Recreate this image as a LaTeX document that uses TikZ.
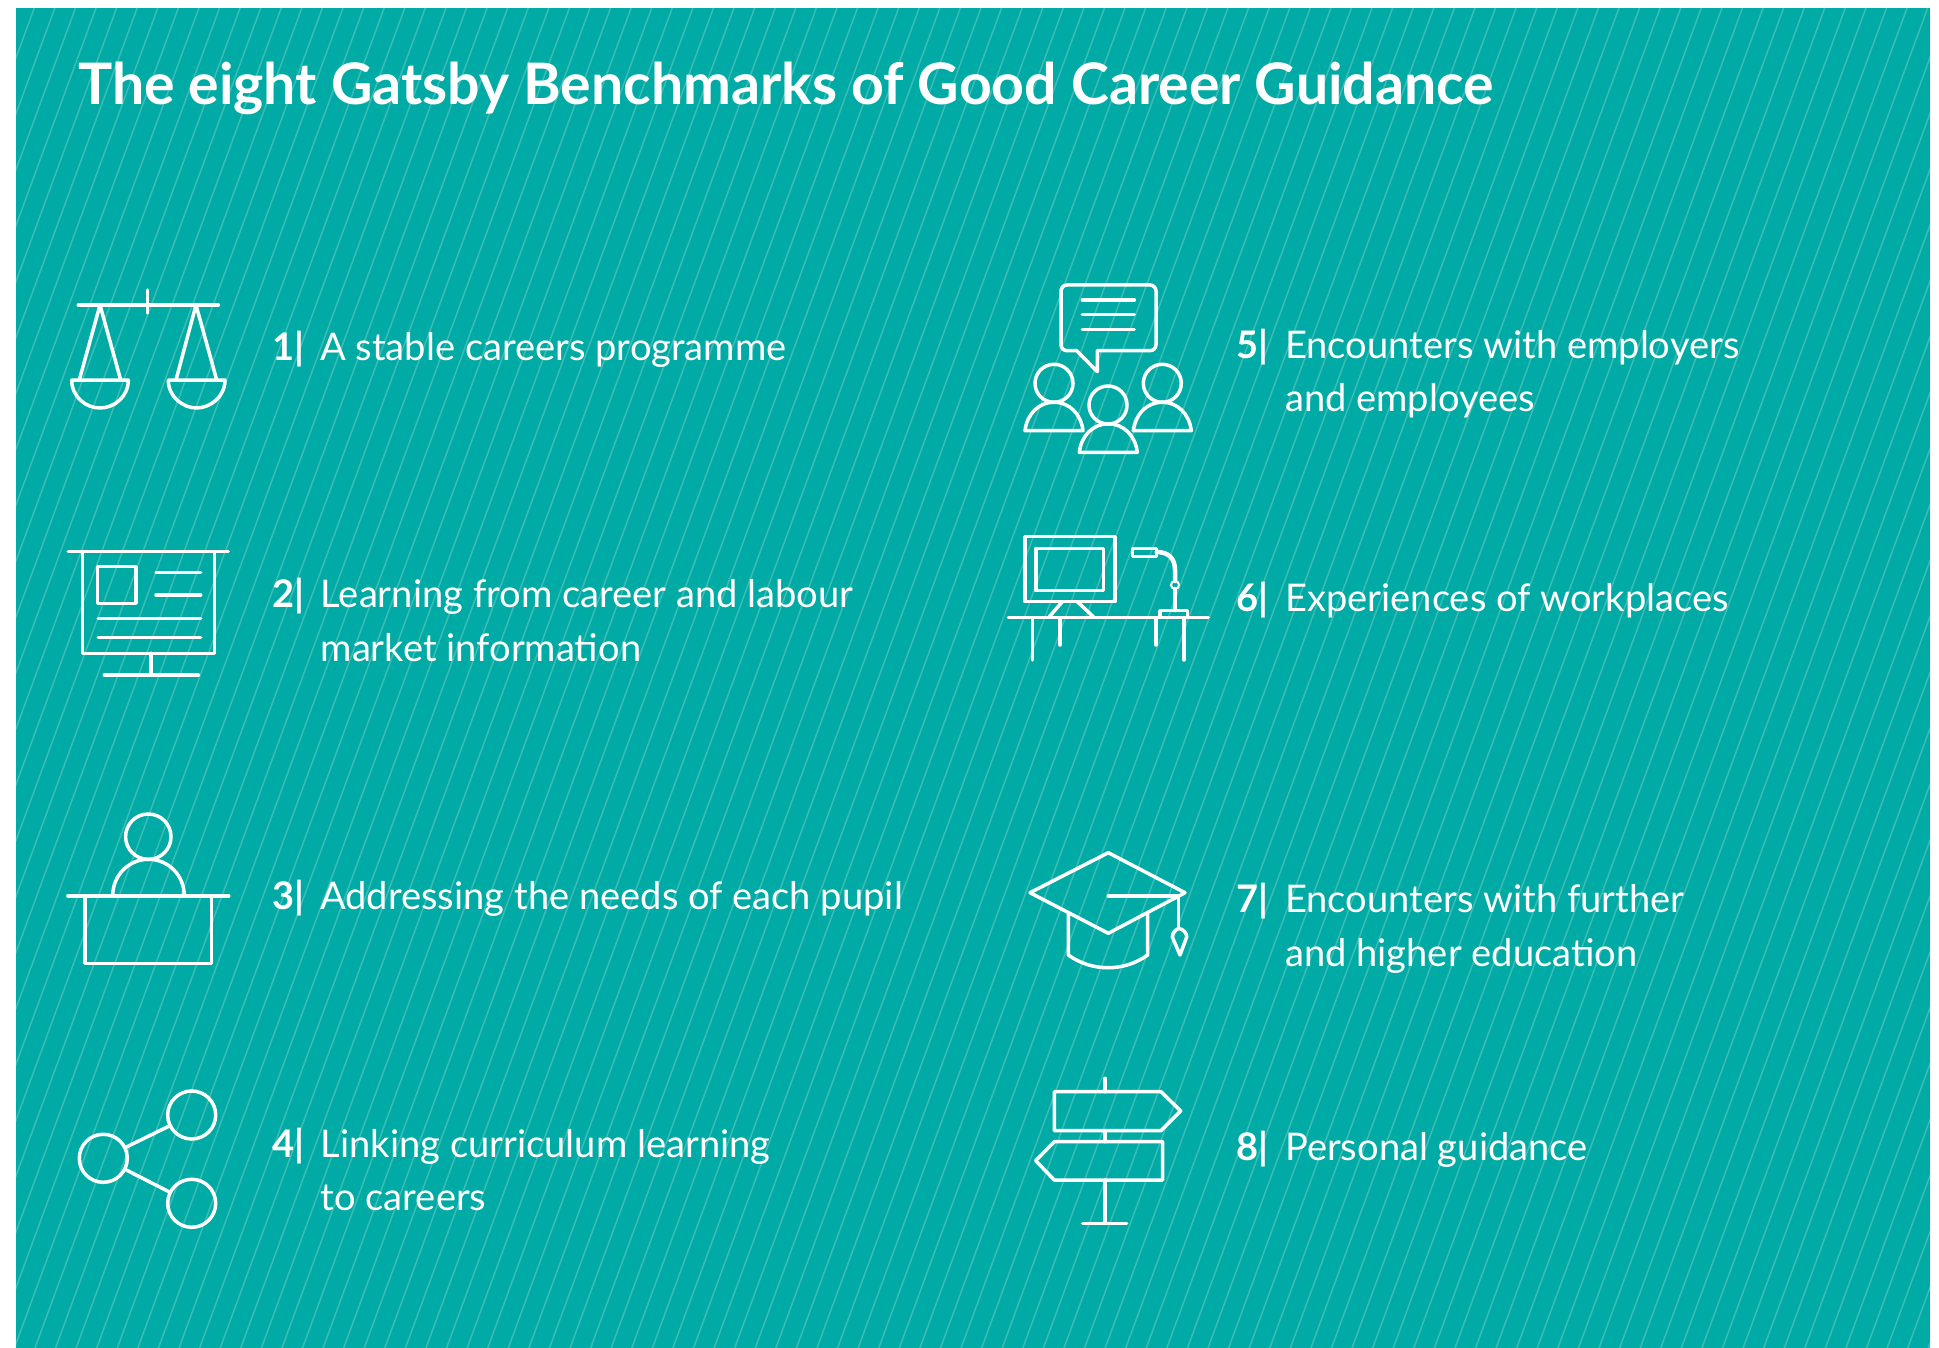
\documentclass[tikz,border=0pt]{standalone}
\usepackage{fontspec}
\setmainfont{Lato}
\definecolor{panel}{HTML}{00ABA6}
\definecolor{stripe}{HTML}{3DBBB5}
\tikzset{
  icon/.style={draw=white,line width=3.5pt,line join=round,line cap=round},
  stripeline/.style={draw=stripe,line width=1.5pt},
  bmtitle/.style={text=white,anchor=base west,inner sep=0pt,font=\fontsize{57.2}{60}\selectfont\bfseries},
  bmnum/.style={text=white,anchor=base west,inner sep=0pt,font=\fontsize{38}{54}\selectfont\bfseries},
  bmtext/.style={text=white,anchor=base west,inner sep=0pt,align=left,font=\fontsize{38.1}{53.5}\selectfont},
  ring/.style={circle,draw=white,line width=3.5pt,minimum size=#1,inner sep=0pt}
}
\begin{document}
\begin{tikzpicture}[x=1pt,y=-1pt]
\useasboundingbox (0,0) rectangle (1939,1348);
\fill[white] (0,0) rectangle (1939,1348);
\begin{scope}
\clip (16,8) rectangle (1930,1348);
\fill[panel] (16,8) rectangle (1930,1348);
\foreach \k in {-2,...,118}{
  \pgfmathsetmacro{\xa}{34.3+20.58*\k}
  \pgfmathsetmacro{\xb}{\xa-0.3681*1340}
  \draw[stripeline] (\xa,8) -- (\xb,1348);
}
\end{scope}
% title
\node[bmtitle] (title) at (78,105) {The eight Gatsby Benchmarks of Good Career Guidance};
% texts
\node[bmnum] (n1) at (272,360) {1|};
\node[bmtext] (t1) at (320,360) {A stable careers programme};
\node[bmnum] (n2) at (272,607) {2|};
\node[bmtext] (t2) at (320.5,607) {Learning from career and labour};
\node[bmtext] (t2b) at (320.5,661) {market information};
\node[bmnum] (n3) at (272,909) {3|};
\node[bmtext] (t3) at (320,909) {Addressing the needs of each pupil};
\node[bmnum] (n4) at (272,1157) {4|};
\node[bmtext] (t4) at (320.5,1157) {Linking curriculum learning};
\node[bmtext] (t4b) at (320.5,1210) {to careers};
\node[bmnum] (n5) at (1236,358.5) {5|};
\node[bmtext] (t5) at (1285,358.5) {Encounters with employers};
\node[bmtext] (t5b) at (1285,411.5) {and employees};
\node[bmnum] (n6) at (1236,611) {6|};
\node[bmtext] (t6) at (1285,611) {Experiences of workplaces};
\node[bmnum] (n7) at (1236,912) {7|};
\node[bmtext] (t7) at (1285,912) {Encounters with further};
\node[bmtext] (t7b) at (1285,966) {and higher education};
\node[bmnum] (n8) at (1236,1160) {8|};
\node[bmtext] (t8) at (1285,1160) {Personal guidance};
% 1 scales
\draw[icon] (78.3,305) -- (218.3,305);
\draw[icon] (147.7,290) -- (147.7,313);
\draw[icon] (79.3,380) -- (100,305) -- (120.7,380);
\draw[icon] (176,380) -- (196,305) -- (216.7,380);
\draw[icon] (71.7,380) -- (128.3,380) .. controls (128.3,397) and (114,408) .. (100,408) .. controls (86,408) and (71.7,397) .. (71.7,380);
\draw[icon] (168.3,380) -- (225,380) .. controls (225,397) and (210,408) .. (196.6,408) .. controls (183,408) and (168.3,397) .. (168.3,380);
% 2 board
\draw[icon] (68.3,551.7) -- (228.3,551.7);
\draw[icon] (82.3,551.7) -- (82.3,653.3) -- (214.3,653.3) -- (214.3,551.7);
\draw[icon] (97.7,566.7) rectangle (136,603.3);
\draw[icon] (156,572.7) -- (200.7,572.7);
\draw[icon] (156,595) -- (200.7,595);
\draw[icon] (98.3,618.3) -- (200.7,618.3);
\draw[icon] (98.3,637.3) -- (200.7,637.3);
\draw[icon] (151,653.3) -- (151,675);
\draw[icon] (104.3,675) -- (198.3,675);
% 3 desk
\node[ring=45.4pt] (head3) at (148.3,836.7) {};
\draw[icon] (112.7,896) .. controls (112.7,875) and (129,859.3) .. (148.5,859.3) .. controls (168,859.3) and (184.3,875) .. (184.3,896);
\draw[icon,line width=4.5pt] (68.3,896) -- (228.3,896);
\draw[icon] (85,896) -- (85,963.3) -- (211.7,963.3) -- (211.7,896);
% 4 share
\node[ring=48pt] (s1) at (191.7,1115) {};
\node[ring=48pt] (s2) at (103.3,1158.3) {};
\node[ring=48pt] (s3) at (191.7,1203.3) {};
\draw[icon] (s2) -- (s1);
\draw[icon] (s2) -- (s3);
% 5 meeting
\draw[icon,rounded corners=6pt] (1076.7,350.7) -- (1061,350.7) -- (1061,285) -- (1156,285) -- (1156,350.7) -- (1097.3,350.7);
\draw[icon] (1076.7,350.7) -- (1097.3,371.7) -- (1097.3,350.7);
\draw[icon] (1082.3,300) -- (1134.3,300);
\draw[icon] (1082.3,314.7) -- (1134.3,314.7);
\draw[icon] (1082.3,329.3) -- (1134.3,329.3);
\node[ring=38pt] (h1) at (1054,383.3) {};
\node[ring=38pt] (h2) at (1108,405) {};
\node[ring=38pt] (h3) at (1162.3,383.3) {};
\foreach \cx/\by in {1054/430.7,1108.3/452.3,1162.3/430.7}{
  \draw[icon] (\cx-29,\by) .. controls (\cx-27,\by-17) and (\cx-15,\by-28.5) .. (\cx,\by-28.5) .. controls (\cx+15,\by-28.5) and (\cx+27,\by-17) .. (\cx+29,\by) -- cycle;
}
% 6 workplace
\draw[icon] (1025,536.7) rectangle (1115,601.7);
\draw[icon] (1036,548.3) rectangle (1103.3,590.7);
\draw[icon] (1062.3,601.7) -- (1049.3,616.7);
\draw[icon] (1077.3,601.7) -- (1093.3,616.7);
\draw[icon] (1008.3,617.7) -- (1208.3,617.7);
\draw[icon] (1032.3,617.7) -- (1032.3,660);
\draw[icon] (1060,617.7) -- (1060,645);
\draw[icon] (1156,617.7) -- (1156,645);
\draw[icon] (1184,617.7) -- (1184,660);
\draw[icon] (1132.7,548.3) rectangle (1156.7,556.7);
\draw[icon,line width=4.5pt] (1156.7,552) .. controls (1168,552) and (1175,558) .. (1175,570) -- (1175,581);
\draw[icon,line width=4.5pt] (1175,589) -- (1175,610);
\node[ring=8pt,line width=2pt] (joint) at (1175,585) {};
\draw[icon] (1160,617) -- (1160,610.7) -- (1187.7,610.7) -- (1187.7,617);
% 7 cap
\draw[icon] (1108.3,852.7) -- (1185,892.7) -- (1108.3,933.3) -- (1030,892.7) -- cycle;
\draw[icon] (1108.3,896) -- (1178.3,896) -- (1178.3,928.3);
\draw[icon] (1179,928.3) .. controls (1184,930) and (1186.7,933) .. (1186.7,937) -- (1180,955) -- (1172.3,937) .. controls (1172.3,933) and (1175,930) .. (1179,928.3);
\draw[icon] (1068.3,913.3) -- (1068.3,955) .. controls (1092,972) and (1124,972) .. (1147.7,955) -- (1147.7,913.3);
% 8 signpost
\draw[icon] (1105,1078.3) -- (1105,1091.7);
\draw[icon] (1054.3,1091.7) -- (1161,1091.7) -- (1180.7,1111) -- (1161,1130.7) -- (1054.3,1130.7) -- cycle;
\draw[icon] (1105,1130.7) -- (1105,1141.7);
\draw[icon] (1162.7,1141.7) -- (1054.3,1141.7) -- (1035.7,1160.7) -- (1054.3,1180) -- (1162.7,1180) -- cycle;
\draw[icon] (1105,1180) -- (1105,1223.3);
\draw[icon] (1082.7,1223.3) -- (1126.7,1223.3);
\end{tikzpicture}
\end{document}
